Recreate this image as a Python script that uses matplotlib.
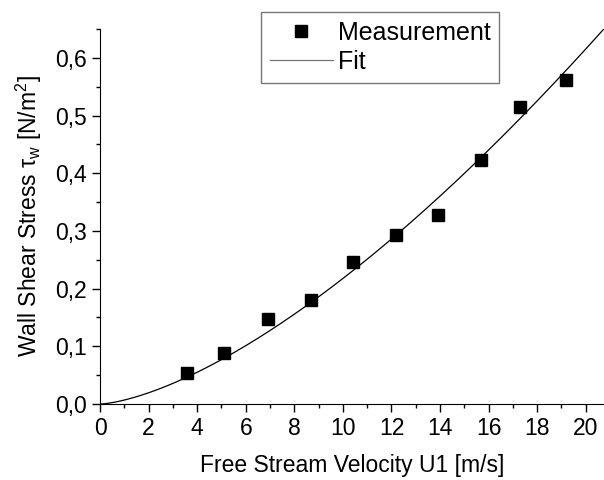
import matplotlib
matplotlib.use('Agg')
import matplotlib.pyplot as plt
from matplotlib.ticker import MultipleLocator, FuncFormatter
import numpy as np

plt.rcParams['font.family'] = ['Liberation Sans', 'DejaVu Sans']
plt.rcParams['mathtext.fontset'] = 'custom'
plt.rcParams['mathtext.rm'] = 'Liberation Sans'
plt.rcParams['mathtext.it'] = 'Liberation Sans'

velocity = [3.6, 5.1, 6.9, 8.7, 10.4, 12.2, 13.9, 15.7, 17.3, 19.2]
stress   = [0.053, 0.089, 0.148, 0.180, 0.247, 0.293, 0.328, 0.423, 0.514, 0.562]

# power-law fit tau = a * U^b
fit_a = 0.00688
fit_b = 1.5

fig = plt.figure(figsize=(6.04, 4.8), dpi=100)
ax = fig.add_axes([0.1656, 0.1583, 0.8344, 0.7813])

u = np.linspace(0, 21, 300)
ax.plot(u, fit_a * u ** fit_b, color='black', linewidth=0.9, label='Fit')
ax.plot(velocity, stress, 's', color='black', markersize=8, label='Measurement')

ax.set_xlim(0, 20.75)
ax.set_ylim(0, 0.65)
ax.xaxis.set_major_locator(MultipleLocator(2))
ax.xaxis.set_minor_locator(MultipleLocator(1))
ax.yaxis.set_major_locator(MultipleLocator(0.1))
ax.yaxis.set_minor_locator(MultipleLocator(0.05))
ax.yaxis.set_major_formatter(FuncFormatter(lambda v, p: f'{v:.1f}'.replace('.', ',')))
ax.tick_params(which='major', direction='out', length=6, width=1, labelsize=16.5)
ax.tick_params(which='minor', direction='out', length=3, width=1)
for s in ['top', 'right']:
    ax.spines[s].set_visible(False)

ax.set_xlabel('Free Stream Velocity U1 [m/s]', fontsize=16.5, labelpad=10)
ax.set_ylabel(r'Wall Shear Stress $\tau_w$ [N/m$^2$]', fontsize=16.5, labelpad=8)

handles, labels = ax.get_legend_handles_labels()
leg = ax.legend(handles[::-1], labels[::-1], loc='upper left',
                bbox_to_anchor=(0.32, 1.045), fontsize=18, frameon=True,
                fancybox=False, edgecolor='#555555', handlelength=2.5,
                handletextpad=0.2, borderpad=0.35, labelspacing=0.2,
                borderaxespad=0)
leg.get_frame().set_linewidth(1)
leg.legend_handles[1].set_color('#777777')

fig.savefig('out.png', dpi=100)
